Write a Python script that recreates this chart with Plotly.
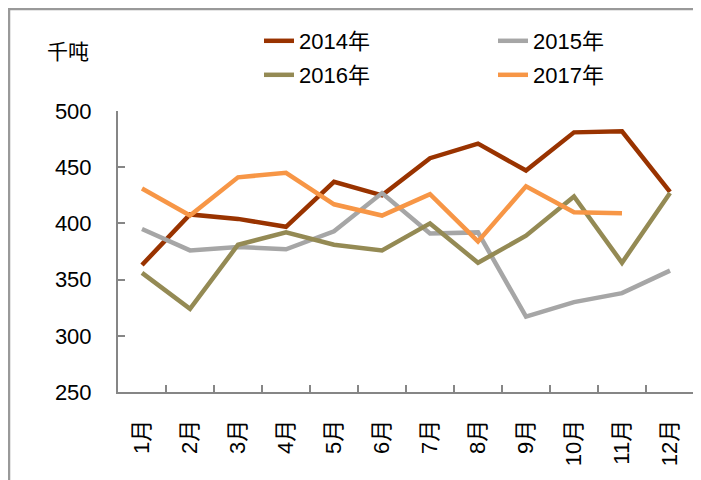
import plotly.graph_objects as go

# Monthly volumes (千吨)
MONTHS = ["1月", "2月", "3月", "4月", "5月", "6月", "7月", "8月", "9月", "10月", "11月", "12月"]
Y2014 = [363, 408, 404, 397, 437, 425, 458, 471, 447, 481, 482, 428]
Y2015 = [395, 376, 379, 377, 393, 427, 391, 392, 317, 330, 338, 358]
Y2016 = [356, 324, 381, 392, 381, 376, 400, 365, 389, 424, 365, 427]
Y2017 = [431, 407, 441, 445, 417, 407, 426, 384, 433, 410, 409, None]

COLORS = ["#993300", "#A6A6A6", "#948A54", "#F79646"]
NAMES = ["2014年", "2015年", "2016年", "2017年"]

FONT = "Liberation Sans, Arial, Noto Sans CJK SC, sans-serif"
AXIS = "#868686"

# page is shifted by the 8px body margin, so the figure is 8px smaller
W, H = 693, 472
ML, MT, MR, MB = 110, 103, 7, 88
PW, PH = W - ML - MR, H - MT - MB


def px_x(x):
    return (x - ML) / PW


def px_y(y):
    return 1 + (MT - y) / PH


fig = go.Figure()
legends = ["legend", "legend2", "legend3", "legend4"]
for i, (name, vals) in enumerate(zip(NAMES, [Y2014, Y2015, Y2016, Y2017])):
    fig.add_trace(
        go.Scatter(
            x=MONTHS,
            y=vals,
            name=name,
            mode="lines",
            line=dict(color=COLORS[i], width=4.5),
            legend=legends[i],
        )
    )

# one legend per entry, laid out 2 x 2 like the original
legend_pos = [(251, 33), (485, 33), (251, 67), (485, 67)]
legend_layout = {}
for key, (lx, ly) in zip(legends, legend_pos):
    legend_layout[key] = dict(
        orientation="h",
        xanchor="left",
        yanchor="middle",
        x=px_x(lx),
        y=px_y(ly),
        bgcolor="rgba(0,0,0,0)",
        font=dict(family=FONT, size=22, color="#000000"),
        itemclick=False,
    )

fig.update_layout(
    width=W,
    height=H,
    margin=dict(l=ML, r=MR, t=MT, b=MB),
    paper_bgcolor="#FFFFFF",
    plot_bgcolor="#FFFFFF",
    font=dict(family=FONT, size=22, color="#000000"),
    showlegend=True,
    **legend_layout,
    annotations=[
        dict(
            text="千吨",
            xref="paper",
            yref="paper",
            x=px_x(37),
            y=px_y(42),
            xanchor="left",
            yanchor="middle",
            showarrow=False,
            font=dict(family="Noto Sans CJK SC, sans-serif", size=21, color="#000000"),
        )
    ],
    shapes=[
        # outer frame: top and left edges only
        dict(type="line", xref="paper", yref="paper",
             x0=px_x(0), x1=px_x(W + 20), y0=px_y(1), y1=px_y(1),
             line=dict(color="#999999", width=2.5)),
        dict(type="line", xref="paper", yref="paper",
             x0=px_x(1), x1=px_x(1), y0=px_y(0), y1=px_y(H + 20),
             line=dict(color="#999999", width=2.5)),
    ],
)

fig.update_xaxes(
    type="category",
    range=[-0.5, 11.5],
    tickson="boundaries",
    ticks="inside",
    ticklen=7,
    tickwidth=1.5,
    tickcolor=AXIS,
    showline=True,
    linecolor=AXIS,
    linewidth=2,
    showgrid=False,
    zeroline=False,
    tickangle=-90,
    ticklabelstandoff=17,
    tickfont=dict(family=FONT, size=22, color="#000000"),
)
fig.update_yaxes(
    range=[250, 500],
    dtick=50,
    ticks="inside",
    ticklen=7,
    tickwidth=1.5,
    tickcolor=AXIS,
    showline=True,
    linecolor=AXIS,
    linewidth=2,
    showgrid=False,
    zeroline=False,
    ticklabelstandoff=20,
    tickfont=dict(family=FONT, size=22, color="#000000"),
)

fig.write_html("out.html")
